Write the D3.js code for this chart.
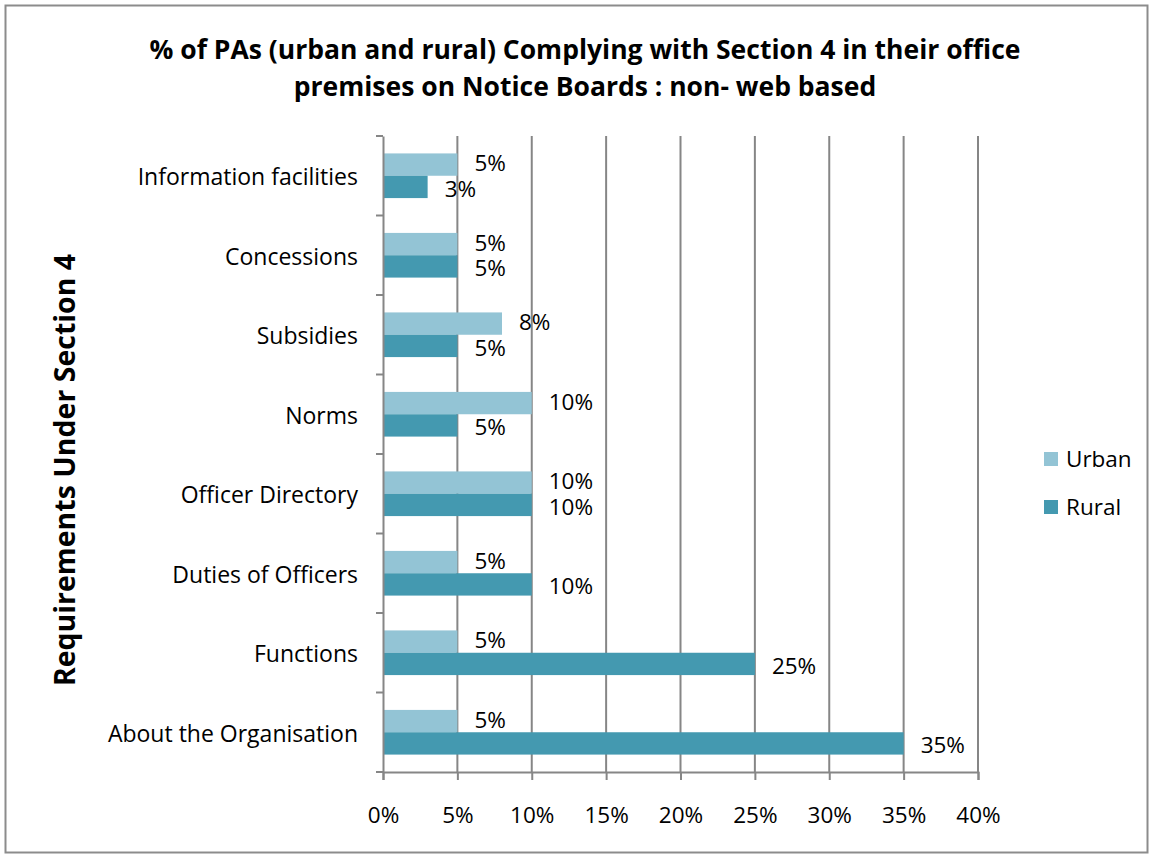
<!DOCTYPE html>
<html>
<head>
<meta charset="utf-8">
<script src="https://cdn.jsdelivr.net/npm/d3@7"></script>
<style>
  body { margin: 0; background: #fff; }
  text { font-family: "Open Sans", "Liberation Sans", sans-serif; fill: #000; }
</style>
</head>
<body>
<div id="chart-area"></div>
<script>
// data
const categories = ["Information facilities", "Concessions", "Subsidies", "Norms",
  "Officer Directory", "Duties of Officers", "Functions", "About the Organisation"]
const urban = [5, 5, 8, 10, 10, 5, 5, 5]
const rural = [3, 5, 5, 5, 10, 10, 25, 35]
const seriesNames = ["Urban", "Rural"]
const colors = ["#93c4d5", "#4499b0"]
const xTicks = [0, 5, 10, 15, 20, 25, 30, 35, 40]

const W = 1151, H = 856
const MARGIN = { LEFT: 383, RIGHT: 173, TOP: 136, BOTTOM: 84 }
const WIDTH = W - MARGIN.LEFT - MARGIN.RIGHT
const HEIGHT = H - MARGIN.TOP - MARGIN.BOTTOM
const FS = "22.5px"

const svg = d3.select("#chart-area").append("svg")
  .attr("width", W)
  .attr("height", H)

// outer frame
svg.append("rect")
  .attr("x", 5.5).attr("y", 5.5)
  .attr("width", W - 9).attr("height", H - 9)
  .attr("fill", "#fff")
  .attr("stroke", "#8c8c8c")
  .attr("stroke-width", 2)

// title
const title = svg.append("text")
  .attr("text-anchor", "middle")
  .style("font-size", "26.5px")
  .style("font-weight", "bold")
title.append("tspan").attr("x", 585).attr("y", 59)
  .text("% of PAs (urban and rural) Complying with Section 4 in their office")
title.append("tspan").attr("x", 585).attr("y", 96)
  .text("premises on Notice Boards : non- web based")

const g = svg.append("g")
  .attr("transform", `translate(${MARGIN.LEFT}, ${MARGIN.TOP})`)

// scales
const x = d3.scaleLinear().domain([0, 40]).range([0, WIDTH])
const y = d3.scaleBand().domain(categories).range([0, HEIGHT])
const sub = d3.scaleBand().domain(seriesNames).range([0, y.bandwidth()]).paddingOuter(0.78).paddingInner(0)

// gridlines
g.selectAll(".grid").data(xTicks.slice(1)).enter().append("line")
  .attr("class", "grid")
  .attr("x1", d => x(d)).attr("x2", d => x(d))
  .attr("y1", 0).attr("y2", HEIGHT)
  .attr("stroke", "#868686")
  .attr("stroke-width", 2)

// bars
const rows = categories.map((c, i) => ({ cat: c, vals: [urban[i], rural[i]] }))
const rowG = g.selectAll(".row").data(rows).enter().append("g")
  .attr("transform", d => `translate(0, ${y(d.cat)})`)

rowG.selectAll("rect").data(d => d.vals).enter().append("rect")
  .attr("x", 0)
  .attr("y", (d, i) => sub(seriesNames[i]))
  .attr("width", d => x(d))
  .attr("height", sub.bandwidth())
  .attr("fill", (d, i) => colors[i])

rowG.selectAll(".lbl").data(d => d.vals).enter().append("text")
  .attr("class", "lbl")
  .attr("x", d => x(d) + 17)
  .attr("y", (d, i) => sub(seriesNames[i]) + sub.bandwidth() / 2 + (i === 0 ? -1 : 2))
  .attr("dy", "0.35em")
  .style("font-size", FS)
  .text(d => d + "%")

// axes
const xAxis = g.append("g")
  .attr("transform", `translate(0, ${HEIGHT})`)
  .call(d3.axisBottom(x).tickValues(xTicks).tickFormat(d => d + "%").tickSize(8).tickPadding(27))
const yAxis = g.append("g")
  .call(d3.axisLeft(y).tickSize(0).tickPadding(25))

// category boundary ticks on y axis
g.selectAll(".ytick").data(d3.range(categories.length + 1)).enter().append("line")
  .attr("x1", -7).attr("x2", 0)
  .attr("y1", d => d * y.step()).attr("y2", d => d * y.step())
  .attr("stroke", "#868686").attr("stroke-width", 2)

;[xAxis, yAxis].forEach(a => {
  a.select(".domain").attr("stroke", "#868686").attr("stroke-width", 2)
  a.selectAll(".tick line").attr("stroke", "#868686").attr("stroke-width", 2)
  a.selectAll("text").style("font-size", FS).style("font-family", "'Open Sans', sans-serif").attr("fill", "#000")
})
yAxis.selectAll("text").style("font-size", "23px").attr("dy", "0.42em")

// y-axis title
svg.append("text")
  .attr("transform", "translate(75, 470) rotate(-90)")
  .attr("text-anchor", "middle")
  .style("font-size", "28.5px")
  .style("font-weight", "bold")
  .text("Requirements Under Section 4")

// legend
const legend = svg.append("g").attr("transform", "translate(1044, 452)")
seriesNames.forEach((s, i) => {
  legend.append("rect")
    .attr("x", 0).attr("y", i * 48)
    .attr("width", 14).attr("height", 14)
    .attr("fill", colors[i])
  legend.append("text")
    .attr("x", 22).attr("y", i * 48 + 7)
    .attr("dy", "0.35em")
    .style("font-size", FS)
    .text(s)
})
</script>
</body>
</html>
